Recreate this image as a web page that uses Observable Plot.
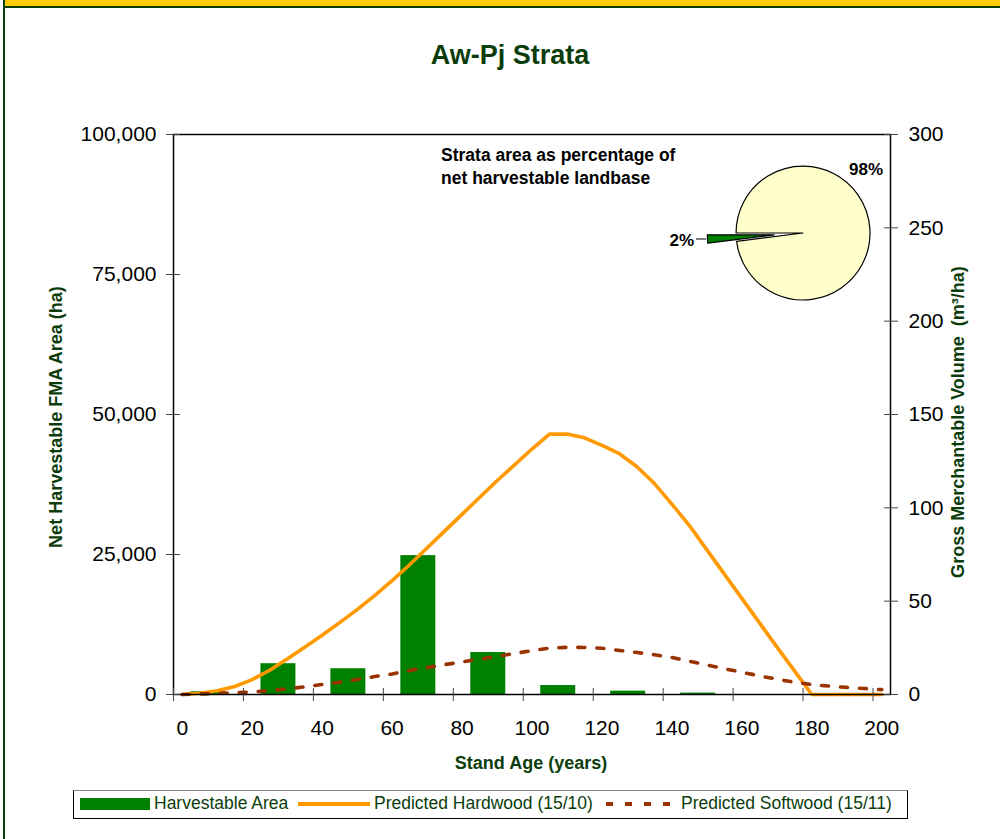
<!DOCTYPE html>
<html>
<head>
<meta charset="utf-8">
<script src="https://cdn.jsdelivr.net/npm/d3@7"></script>
<script src="https://cdn.jsdelivr.net/npm/@observablehq/plot@0.6"></script>
<style>
  html, body { margin: 0; padding: 0; background: #fff; }
  #page { position: relative; width: 1000px; height: 839px; overflow: hidden; background: #fff;
          font-family: "Liberation Sans", Arial, Helvetica, sans-serif; }
  .abs { position: absolute; }
  .title { left: 310px; width: 400px; top: 42px; font-size: 27px; line-height: 27px; font-weight: bold;
           color: #0b3d0b; text-align: center; }
  .ytitle { width: 400px; font-size: 18px; line-height: 18px; font-weight: bold; color: #0b3d0b;
            text-align: center; transform: rotate(-90deg); transform-origin: 50% 50%; white-space: pre; }
  .xtitle { left: 381px; width: 300px; top: 754px; font-size: 18px; line-height: 18px; font-weight: bold;
            color: #0b3d0b; text-align: center; }
  .legtext { font-size: 17.5px; line-height: 17.5px; color: #0b3d0b; top: 795px; white-space: nowrap; }
</style>
</head>
<body>
<div id="page"></div>
<script>
// ---------- data ----------
const ages = [0, 5, 10, 15, 20, 25, 30, 35, 40, 45, 50, 55, 60, 65, 70, 75, 80, 85, 90, 95, 100,
              105, 110, 115, 120, 125, 130, 135, 140, 145, 150, 155, 160, 165, 170, 175, 180, 185, 190, 195, 200];
const hardwoodVolume = [0, 0.7, 2, 4.3, 8, 13, 19, 25.3, 31.7, 38.5, 45.5, 53, 61, 69.5, 78.5, 87.5, 96.5,
                        105.5, 114.5, 123, 131.5, 139.5, 139.5, 137.5, 133.5, 129, 122, 113, 102, 90.5, 77.5, 64.5,
                        51.5, 38.5, 25.5, 12.8, 0, 0, 0, 0, 0];
const softwoodVolume = [0, 0.3, 0.6, 0.9, 1.4, 2.1, 3, 4.1, 5.4, 6.6, 8, 9.6, 11, 12.8, 14.4, 16, 17.4,
                        19, 20.4, 22, 23.5, 24.8, 25.3, 25.2, 24.8, 23.6, 22.5, 21.3, 19.8, 17.8, 15.8, 13.8,
                        11.9, 10, 8.2, 6.6, 5.3, 4.5, 3.8, 3.2, 2.6];
const ageClassStart = [0, 20, 40, 60, 80, 100, 120, 140, 160, 180];
const harvestableArea = [500, 5500, 4600, 24800, 7500, 1600, 600, 250, 0, 0];

const xTickLabels = [0, 20, 40, 60, 80, 100, 120, 140, 160, 180, 200];
const leftTicks = [0, 25000, 50000, 75000, 100000];
const rightTicks = [0, 50, 100, 150, 200, 250, 300];

const pieNames = ["Other strata", "Aw-Pj"];
const pieShares = [98, 2];

const seriesNames = ["Harvestable Area", "Predicted Hardwood (15/10)", "Predicted Softwood (15/11)"];

// ---------- derived tables ----------
const volData = ages.map((age, i) => ({age, hard: hardwoodVolume[i], soft: softwoodVolume[i]}));
const barData = ageClassStart.map((start, i) => ({start, area: harvestableArea[i]}));
const pieData = pieNames.map((name, i) => ({name, share: pieShares[i]}));

const leftMax = 100000, rightMax = 300;
const k = leftMax / rightMax;               // secondary axis mapping
const halfStep = 2.5;                         // half of the 5-year category width
const boundaries = d3.range(-halfStep, 200, 20);

const GREEN = "#008000", ORANGE = "#FF9900", BROWN = "#993300", PIEFILL = "#FFFFCC";

function pieMark(index, scales, values, dimensions) {
  const dim = dimensions || {width: 1000, height: 760, marginLeft: 173, marginRight: 110, marginTop: 134, marginBottom: 66};
  const fw = dim.width - dim.marginLeft - dim.marginRight;
  const fh = dim.height - dim.marginTop - dim.marginBottom;
  const cx = dim.marginLeft + fw * 0.8787;
  const cy = dim.marginTop + fh * 0.1768;
  const r = fw * 0.0934;
  const explode = r * 0.43;
  const g = d3.create("svg:g").attr("font-family", "Liberation Sans, Arial, sans-serif");
  const arcs = d3.pie().sort(null).value(d => d.share)
    .startAngle(1.5 * Math.PI).endAngle(3.5 * Math.PI)(pieData);
  const arc = d3.arc().innerRadius(0).outerRadius(r);
  arcs.forEach((a, i) => {
    const mid = (a.startAngle + a.endAngle) / 2;
    const off = i === 1 ? explode : 0;
    g.append("path")
      .attr("d", arc(a))
      .attr("transform", `translate(${cx + Math.sin(mid) * off},${cy - Math.cos(mid) * off})`)
      .attr("fill", i === 1 ? GREEN : PIEFILL)
      .attr("stroke", "#000").attr("stroke-width", 1.2).attr("stroke-linejoin", "round");
  });
  const fmt = v => `${v}%`;
  g.append("text").attr("x", cx + 63).attr("y", cy - 58).attr("text-anchor", "middle")
    .attr("font-size", 17).attr("font-weight", "bold").attr("fill", "#000").text(fmt(pieShares[0]));
  g.append("text").attr("x", cx - 109).attr("y", cy + 13).attr("text-anchor", "end")
    .attr("font-size", 17).attr("font-weight", "bold").attr("fill", "#000").text(fmt(pieShares[1]));
  g.append("line").attr("x1", cx - 107).attr("x2", cx - 97).attr("y1", cy + 6).attr("y2", cy + 6)
    .attr("stroke", "#000").attr("stroke-width", 1);
  g.append("text").attr("x", cx - 362).attr("y", cy - 72).attr("text-anchor", "start")
    .attr("font-size", 17.5).attr("font-weight", "bold").attr("fill", "#000").text("Strata area as percentage of");
  g.append("text").attr("x", cx - 362).attr("y", cy - 49).attr("text-anchor", "start")
    .attr("font-size", 17.5).attr("font-weight", "bold").attr("fill", "#000").text("net harvestable landbase");
  return g.node();
}

const chart = Plot.plot({
  width: 1000,
  height: 760,
  marginLeft: 173,
  marginRight: 110,
  marginTop: 134,
  marginBottom: 66,
  style: {fontFamily: "Liberation Sans, Arial, sans-serif", fontSize: "21px", color: "#000",
          background: "transparent", overflow: "visible"},
  x: {domain: [-halfStep, 200 + halfStep], label: null},
  y: {domain: [0, leftMax], label: null},
  marks: [
    Plot.rectY(barData, {x1: d => d.start + halfStep, x2: d => d.start + 12.5, y: "area", fill: GREEN}),
    Plot.line(volData, {x: "age", y: d => d.hard * k, stroke: ORANGE, strokeWidth: 3.6, strokeLinejoin: "round"}),
    Plot.line(volData, {x: "age", y: d => d.soft * k, stroke: BROWN, strokeWidth: 3.6, strokeDasharray: "7,12"}),
    Plot.frame({stroke: "#000", strokeWidth: 1.5}),
    Plot.axisY(leftTicks, {anchor: "left", tickSize: 14, dx: 7, tickPadding: 10,
                           tickFormat: d3.format(","), label: null, stroke: "#444"}),
    Plot.axisY(rightTicks.map(v => v * k), {anchor: "right", tickSize: 14, dx: -7, tickPadding: 11,
                           tickFormat: v => Math.round(v / k), label: null, stroke: "#444"}),
    Plot.axisX(boundaries, {anchor: "bottom", tickSize: 13, dy: -6, tickFormat: () => "", label: null, stroke: "#444"}),
    Plot.axisX(xTickLabels, {anchor: "bottom", tickSize: 0, tickPadding: 26, label: null}),
    pieMark
  ]
});

const page = document.getElementById("page");
chart.style.position = "absolute";
chart.style.left = "0px";
chart.style.top = "0px";
page.appendChild(chart);

function addDiv(cls, css, text) {
  const d = document.createElement("div");
  d.className = "abs " + (cls || "");
  Object.assign(d.style, css || {});
  if (text != null) d.textContent = text;
  page.appendChild(d);
  return d;
}

// page frame
addDiv("", {left: "5px", top: "0px", width: "995px", height: "6px", background: "#FFCC00"});
addDiv("", {left: "3px", top: "6px", width: "997px", height: "2px", background: "#0b3d0b"});
addDiv("", {left: "3px", top: "0px", width: "2px", height: "839px", background: "#0b3d0b"});

// titles
addDiv("title", {}, "Aw-Pj Strata");
addDiv("ytitle", {left: (56 - 200) + "px", top: (417 - 9) + "px"}, "Net Harvestable FMA Area (ha)");
addDiv("ytitle", {left: (958 - 200) + "px", top: (422 - 9) + "px"}, "Gross Merchantable Volume  (m³/ha)");
addDiv("xtitle", {}, "Stand Age (years)");

// legend
addDiv("", {left: "73px", top: "790px", width: "833px", height: "27px", border: "1px solid #000",
            borderTopColor: "#888", boxSizing: "content-box", background: "#fff"});
addDiv("", {left: "80px", top: "798px", width: "70px", height: "12px", background: GREEN});
addDiv("legtext", {left: "154px"}, seriesNames[0]);
addDiv("", {left: "298px", top: "802px", width: "72px", height: "4px", background: ORANGE});
addDiv("legtext", {left: "374px"}, seriesNames[1]);
const ns = "http://www.w3.org/2000/svg";
const lsvg = document.createElementNS(ns, "svg");
lsvg.setAttribute("width", "72"); lsvg.setAttribute("height", "10");
lsvg.style.position = "absolute"; lsvg.style.left = "606px"; lsvg.style.top = "799px";
const ll = document.createElementNS(ns, "line");
ll.setAttribute("x1", 0); ll.setAttribute("x2", 72); ll.setAttribute("y1", 5); ll.setAttribute("y2", 5);
ll.setAttribute("stroke", BROWN); ll.setAttribute("stroke-width", 4); ll.setAttribute("stroke-dasharray", "7,12");
lsvg.appendChild(ll);
page.appendChild(lsvg);
addDiv("legtext", {left: "681px"}, seriesNames[2]);
</script>
</body>
</html>
